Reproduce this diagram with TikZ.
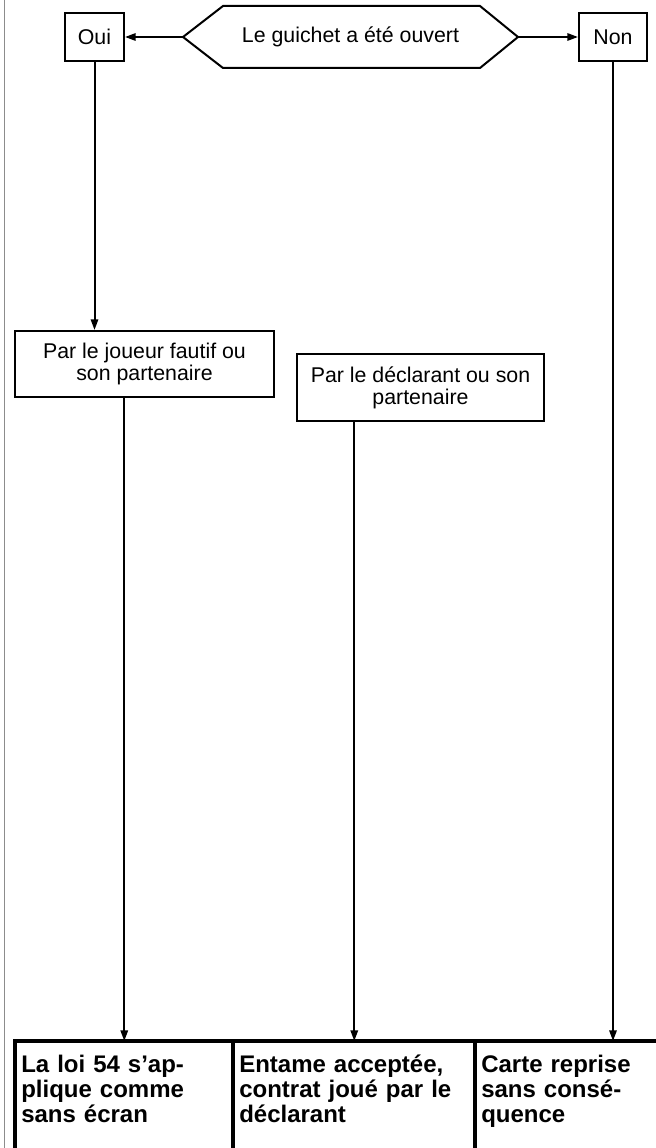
\documentclass[tikz,border=0pt]{standalone}
\usepackage{fontspec}
\setmainfont{Liberation Sans}
\usetikzlibrary{arrows.meta}
\definecolor{edgegray}{HTML}{8C8C8C}
\begin{document}
\begin{tikzpicture}[x=0.75pt,y=-0.75pt,
  txt/.style={font=\fontsize{16}{16.5}\selectfont},
  box/.style={txt, draw, line width=1.5pt, rectangle, inner sep=0pt, align=center},
  res/.style={anchor=north west, inner xsep=4.5pt, inner ysep=10.3pt, align=left,
              font=\fontsize{18}{18.75}\selectfont\bfseries},
  arr/.style={line width=1.5pt, -{Triangle[length=8pt,width=5.5pt]}},
  frame/.style={line width=3pt, line join=miter},
]
\useasboundingbox (0,0) rectangle (656,1148);
\clip (0,0) rectangle (656,1148);
\coordinate (pagebottom) at (0,1148);
\draw[edgegray, line width=1.1pt] (4.5,0) -- (4.5,1148);

% top row
\node[box, minimum width=44.25pt, minimum height=36pt] (oui) at (94.5,37) {Oui};
\node[box, minimum width=51pt, minimum height=36pt] (non) at (613,37) {Non};
\coordinate (hw) at (183,37);
\coordinate (he) at (518,37);
\draw[line width=1.5pt, line join=miter] (hw) -- (223,6) -- (480,6) -- (he) -- (480,68) -- (223,68) -- cycle;
\node[txt] (q) at (350.5,37) {Le guichet a été ouvert};
\draw[arr] (hw) -- (oui.east);
\draw[arr] (he) -- (non.west);

% middle boxes
\node[box, minimum width=194.25pt, minimum height=49.5pt] (b1) at (144.5,364) {Par le joueur fautif ou\\son partenaire};
\node[box, minimum width=185.25pt, minimum height=50.25pt] (b2) at (420.5,387.5) {Par le déclarant ou son\\partenaire};
\draw[arr] (oui.south) -- (oui.south |- b1.north);

% results
\node[res, text width=154.5pt] (r1) at (15,1041) {La loi 54 s’ap-\\plique comme\\sans écran};
\node[res, text width=172.5pt] (r2) at (233,1041) {Entame acceptée,\\contrat joué par le\\déclarant};
\node[res, text width=126.75pt] (r3) at (475,1041) {Carte reprise\\sans consé-\\quence};

\draw[frame] (r1.north west |- pagebottom) -- (r1.north west) -- (r3.north east);
\draw[frame] (r2.north west |- pagebottom) -- (r2.north west);
\draw[frame] (r3.north west |- pagebottom) -- (r3.north west);

\draw[arr] (b1.south -| r1.north) -- (r1.north);
\draw[arr] (b2.south -| r2.north) -- (r2.north);
\draw[arr] (non.south) -- (non.south |- r3.north);
\end{tikzpicture}
\end{document}
